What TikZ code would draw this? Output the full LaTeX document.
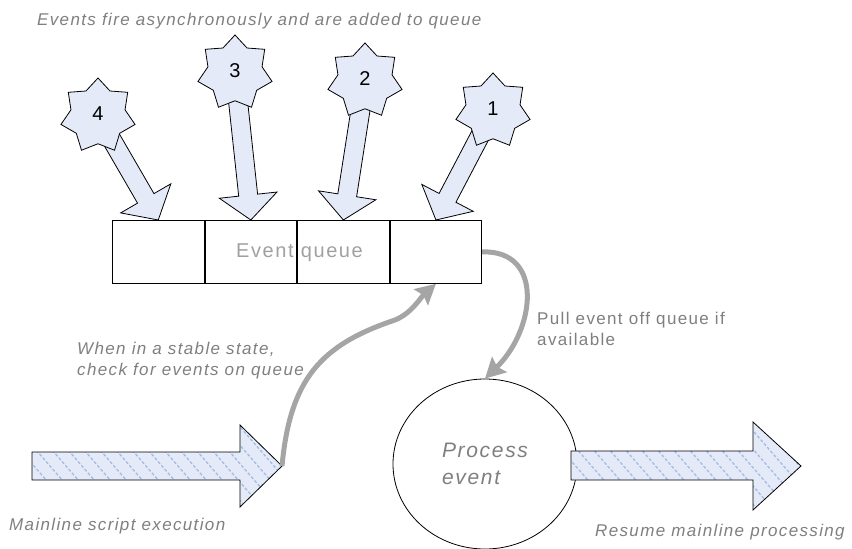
\documentclass[tikz,border=0pt]{standalone}
\usepackage{fontspec}
\setmainfont{Liberation Sans}
\newfontfamily\labfont[LetterSpace=8]{Liberation Sans}
\usetikzlibrary{shapes.geometric,arrows.meta,calc,backgrounds}
\definecolor{lblue}{HTML}{E4EAF7}
\definecolor{hatchc}{HTML}{A3BCE5}
\definecolor{txtgray}{HTML}{7F7F7F}
\definecolor{arrgray}{HTML}{A5A5A5}
\definecolor{qtext}{HTML}{A0A0A0}
\tikzset{
  lbl/.style={font=\labfont\fontsize{17}{21}\selectfont\itshape, text=txtgray, inner sep=0pt, align=left},
  lblup/.style={font=\labfont\fontsize{17}{21}\selectfont, text=txtgray, inner sep=0pt, align=left},
  qcell/.style={draw=black, line width=0.8pt, minimum width=91.75pt, minimum height=63pt, inner sep=0pt, anchor=north west},
  evstar/.style={star, star points=7, star point ratio=1.37, minimum size=76pt, inner sep=0pt, draw=black, fill=lblue, line width=0.8pt, font=\fontsize{20}{20}\selectfont},
  blockarr/.style={draw=black, fill=lblue, line width=0.8pt, line join=miter},
  grayarr/.style={draw=arrgray, line width=5pt, -{Stealth[length=20pt,width=21pt,inset=3pt]}},
  hatch/.style={draw=hatchc, line width=1.3pt, dash pattern=on 3pt off 2pt},
  hatched/.style={path picture={\foreach \i in {-150,-134,...,320} \draw[hatch] ([xshift=\i pt, yshift=5pt]path picture bounding box.north west) -- ++(100pt,-115pt);}},
}
\newcommand\blockarrow[2]{%
  \coordinate (hb) at ($(#2)!25pt!(#1)$);
  \draw[blockarr] ($(#1)!9.5pt!90:(#2)$) -- ($(hb)!9.5pt!90:(#2)$) -- ($(hb)!29pt!90:(#2)$) -- (#2) -- ($(hb)!29pt!-90:(#2)$) -- ($(hb)!9.5pt!-90:(#2)$) -- ($(#1)!9.5pt!-90:(#2)$) -- cycle;}
\begin{document}
\begin{tikzpicture}[x=1pt,y=-1pt]
\useasboundingbox (0,0) rectangle (852,549);
% title
\node[lbl, anchor=base west] (title) at (37,25) {Events fire asynchronously and are added to queue};
% queue
\node[qcell] (q1) at (112,220) {};
\node[qcell] (q2) at (q1.north east) {};
\node[qcell] (q3) at (q2.north east) {};
\node[qcell] (q4) at (q3.north east) {};
\node[font=\labfont\fontsize{20}{20}\selectfont, text=qtext, inner sep=0pt] (eq) at (299.5,253) {Event queue};
% stars
\node[evstar] (s4) at (98,116) {\raisebox{4pt}{4}};
\node[evstar] (s3) at (235,73) {\raisebox{4pt}{3}};
\node[evstar] (s2) at (365,81) {\raisebox{4pt}{2}};
\node[evstar] (s1) at (493,111) {\raisebox{4pt}{1}};
\begin{scope}[on background layer]
  \blockarrow{s4.center}{q1.north}
  \blockarrow{s3.center}{q2.north}
  \blockarrow{s2.center}{q3.north}
  \blockarrow{s1.center}{q4.north}
\end{scope}
% process event
\node[draw, ellipse, line width=0.8pt, minimum width=184pt, minimum height=170pt, inner sep=0pt,
      font=\labfont\fontsize{21}{27}\selectfont\itshape, text=txtgray, align=left] (pe) at (485,464) {Process\\event};
% main arrows
\coordinate (mtip) at (282,466);
\coordinate (rtip) at (801,466);
\draw[blockarr, hatched] (32,452) -- (240,452) -- (240,425) -- (mtip) -- (240,507) -- (240,480) -- (32,480) -- cycle;
\draw[blockarr, hatched] (571,451) -- (753,451) -- (753,422) -- (rtip) -- (753,510) -- (753,480) -- (571,480) -- cycle;
% gray connectors
\draw[grayarr] (q4.east) .. controls (545,250) and (535,330) .. (pe.north);
\draw[grayarr] (mtip) .. controls (290,380) and (320,345) .. (395,320) .. controls (412,313) and (420,298) .. (q4.south);
% labels
\node[lbl, anchor=north west] (l1) at (77,342) {When in a stable state,\\check for events on queue};
\node[lblup, anchor=north west] (l2) at (537,312) {Pull event off queue if\\available};
\node[lbl, anchor=base west] (l3) at (9,530) {Mainline script execution};
\node[lbl, anchor=base west] (l4) at (595,536) {Resume mainline processing};
\end{tikzpicture}
\end{document}
